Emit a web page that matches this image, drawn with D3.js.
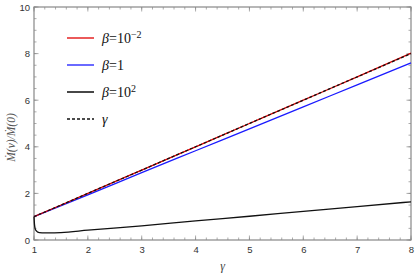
<!DOCTYPE html>
<head>
  <meta charset="utf-8">
  <script src="https://d3js.org/d3.v7.min.js"></script>
  <style>
    body { margin: 0; background: #fff; }
    .axis text { font-size: 9.5px; fill: #333; font-family: "Liberation Sans", Arial, sans-serif; }
  </style>
</head>
<body>
<div id="chart"></div>
<script>
  var width = 415, height = 278;
  var margin = {top: 7, right: 4, bottom: 38, left: 34};
  var serif = "'Liberation Serif', 'Times New Roman', 'DejaVu Serif', serif";

  var gammaSmall = [1, 2, 3, 4, 5, 6, 7, 8];
  var lowBeta = [1, 2, 3, 4, 5, 6, 7, 8.02];
  var unitBeta = [1, 1.94, 2.89, 3.83, 4.77, 5.71, 6.66, 7.6];
  var gammaHigh = [1, 1.005, 1.01, 1.02, 1.04, 1.07, 1.1, 1.2, 1.3, 1.5, 2, 3, 4, 5, 6, 7, 8];
  var highBeta = [1, 0.8, 0.65, 0.5, 0.4, 0.34, 0.32, 0.305, 0.305, 0.32, 0.42, 0.61, 0.82, 1.02, 1.23, 1.43, 1.64];
  var gammaLine = [1, 8];
  var xTicks = [1, 2, 3, 4, 5, 6, 7, 8];
  var yTicks = [0, 2, 4, 6, 8, 10];
  var legendLabels = ["β=10^-2", "β=1", "β=10^2", "γ"];

  var w = width - margin.left - margin.right,
      h = height - margin.top - margin.bottom;

  var svg = d3.select("#chart").append("svg")
    .attr("width", width).attr("height", height);

  var x = d3.scaleLinear().domain([1, 8]).range([0, w]);
  var y = d3.scaleLinear().domain([0, 10]).range([h, 0]);

  var g = svg.append("g")
    .attr("transform", "translate(" + margin.left + "," + margin.top + ")");

  var xMinor = d3.range(1, 8.001, 0.2), yMinor = d3.range(0, 10.001, 0.5);
  var frame = "#888";

  // minor + major ticks on all four sides
  function ticks(vals, len) {
    vals.forEach(function(v) {
      g.append("line").attr("x1", x(v)).attr("x2", x(v)).attr("y1", h).attr("y2", h - len).attr("stroke", frame).attr("stroke-width", 0.7);
      g.append("line").attr("x1", x(v)).attr("x2", x(v)).attr("y1", 0).attr("y2", len).attr("stroke", frame).attr("stroke-width", 0.7);
    });
  }
  ticks(xMinor, 2.5);
  ticks(xTicks, 4.5);
  function yt(vals, len) {
    vals.forEach(function(v) {
      g.append("line").attr("y1", y(v)).attr("y2", y(v)).attr("x1", 0).attr("x2", len).attr("stroke", frame).attr("stroke-width", 0.7);
      g.append("line").attr("y1", y(v)).attr("y2", y(v)).attr("x1", w).attr("x2", w - len).attr("stroke", frame).attr("stroke-width", 0.7);
    });
  }
  yt(yMinor, 2.5);
  yt(yTicks, 4.5);

  g.append("g").attr("class", "axis")
    .attr("transform", "translate(0," + h + ")")
    .call(d3.axisBottom(x).tickValues(xTicks).tickSize(0).tickPadding(6).tickFormat(d3.format("d")))
    .call(function(s) { s.select(".domain").remove(); });

  g.append("g").attr("class", "axis")
    .call(d3.axisLeft(y).tickValues(yTicks).tickSize(0).tickPadding(4).tickFormat(d3.format("d")))
    .call(function(s) { s.select(".domain").remove(); });

  g.append("rect").attr("width", w).attr("height", h)
    .attr("fill", "none").attr("stroke", frame).attr("stroke-width", 1.2);

  var line = d3.line().x(function(d) { return x(d[0]); }).y(function(d) { return y(d[1]); })
    .curve(d3.curveMonotoneX);

  function series(xs, ys, color, dash) {
    g.append("path")
      .datum(xs.map(function(v, i) { return [v, ys[i]]; }))
      .attr("d", line)
      .attr("fill", "none")
      .attr("stroke", color)
      .attr("stroke-width", 1.3)
      .attr("stroke-dasharray", dash || null);
  }
  series(gammaSmall, unitBeta, "#1a1aff");
  series(gammaHigh, highBeta, "#111");
  series(gammaSmall, lowBeta, "#e00000");
  series(gammaLine, gammaLine, "#111", "3,2");

  // legend
  var legColors = ["#e00000", "#1a1aff", "#333", "#111"];
  var leg = svg.append("g").attr("transform", "translate(67,38)");
  legendLabels.forEach(function(lbl, i) {
    var row = leg.append("g").attr("transform", "translate(0," + (i * 27) + ")");
    row.append("line").attr("x1", 0).attr("x2", 27).attr("y1", 0).attr("y2", 0)
      .attr("stroke", legColors[i]).attr("stroke-width", i == 2 ? 1.8 : 1.3)
      .attr("stroke-dasharray", i == 3 ? "3,2" : null);
    var t = row.append("text").style("font-family", serif).attr("x", 35).attr("y", 5)
      .attr("font-size", "14px").attr("fill", "#111");
    if (lbl.indexOf("^") > -1) {
      var parts = lbl.split("^");
      t.append("tspan").attr("font-style", "italic").text(parts[0].slice(0, 1));
      t.append("tspan").text(parts[0].slice(1));
      t.append("tspan").attr("dy", -5).attr("font-size", "10px").text(parts[1].replace("-", "\u2212"));
    } else if (lbl.slice(0, 1) == "β") {
      t.append("tspan").attr("font-style", "italic").text("β");
      t.append("tspan").text(lbl.slice(1));
    } else {
      t.attr("font-style", "italic").text(lbl);
    }
  });

  // axis titles
  svg.append("text").style("font-family", serif)
    .attr("x", margin.left + w / 2).attr("y", 270)
    .attr("text-anchor", "middle").attr("font-style", "italic")
    .attr("font-size", "12px").attr("fill", "#444").text("γ");

  svg.append("text").style("font-family", serif)
    .attr("transform", "translate(15," + (margin.top + h / 2 + 14) + ") rotate(-90)")
    .attr("text-anchor", "middle").attr("font-style", "italic")
    .attr("font-size", "11.5px").attr("fill", "#555")
    .text("M\u0307(v)/M\u0307(0)");
</script>
</body>
